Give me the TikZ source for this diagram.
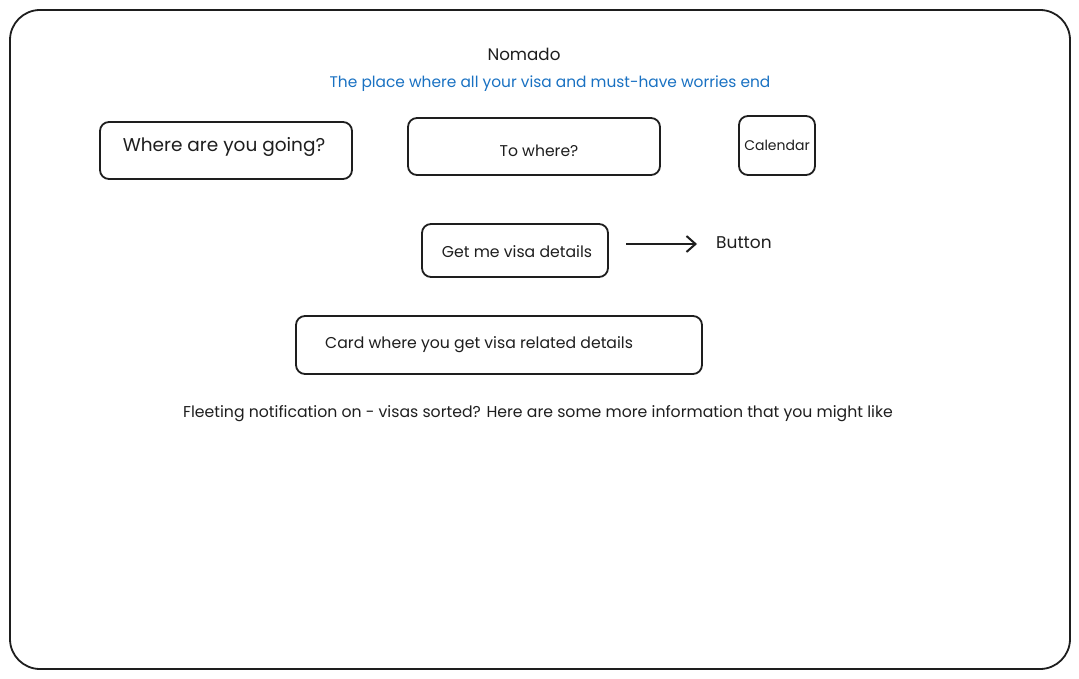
\documentclass[tikz,border=0pt]{standalone}
\usepackage{fontspec}
\setmainfont{Poppins}
\usetikzlibrary{arrows.meta}
\definecolor{ink}{HTML}{1E1E1E}
\definecolor{blueink}{HTML}{1971C2}
\tikzset{
  box/.style={draw=ink, line width=1.8pt, rounded corners=9pt, fill=white},
  lbl/.style={text=ink, inner sep=0pt, font=\fontsize{15.7}{18}\selectfont},
}
\begin{document}
\begin{tikzpicture}[x=1pt,y=-1pt]
\useasboundingbox (0,0) rectangle (1079,679);
\draw[draw=ink, line width=1.8pt, rounded corners=30pt] (10,10) rectangle (1070,669);
\node[lbl, font=\fontsize{16.7}{19}\selectfont] (title) at (524,54) {Nomado};
\node[lbl, text=blueink, font=\fontsize{15.4}{18}\selectfont] (sub) at (550,84) {The place where all your visa and must-have worries end};
\draw[box] (100,122) rectangle (352,179);
\node[lbl, font=\fontsize{18.5}{21}\selectfont] (where) at (224,147) {Where are you going?};
\draw[box] (408,118) rectangle (660,175);
\node[lbl, font=\fontsize{15.6}{18}\selectfont] (to) at (539,151) {To where?};
\draw[box] (739,116) rectangle (815,175);
\node[lbl, font=\fontsize{14}{16}\selectfont] (cal) at (777,145) {Calendar};
\draw[box] (422,224) rectangle (608,277);
\node[lbl] (get) at (517,252) {Get me visa details};
\coordinate (gete) at (608,244);
\node[lbl, anchor=west, font=\fontsize{17}{19}\selectfont] (btn) at (716,243) {Button};
\draw[draw=ink, line width=2pt, -{Straight Barb[length=9pt,width=16pt]}, shorten <=18pt, shorten >=19pt] (gete) -- (btn.west |- gete);
\draw[box] (296,316) rectangle (702,374);
\node[lbl, anchor=west] (card) at (325,345) {Card where you get visa related details};
\node[lbl] (fleet) at (538,414) {Fleeting notification on - visas sorted? Here are some more information that you might like};
\end{tikzpicture}
\end{document}
